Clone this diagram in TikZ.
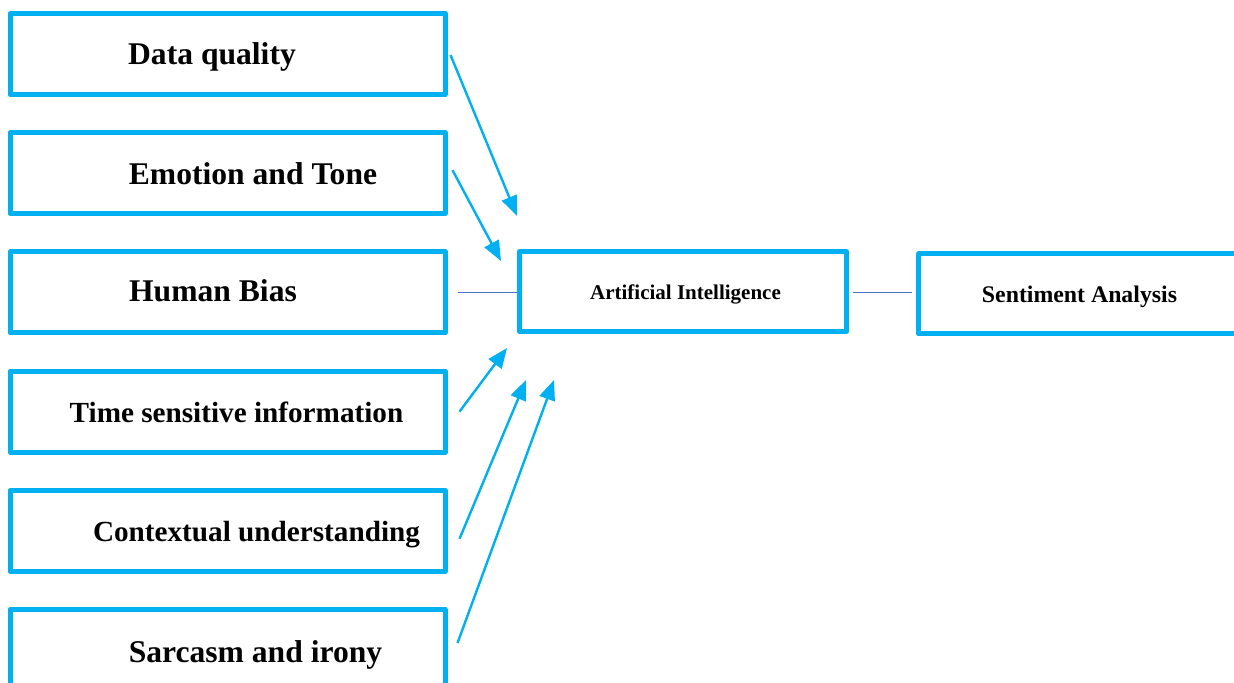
\documentclass[tikz,border=0pt]{standalone}
\usepackage{fontspec}
\setmainfont{Liberation Serif}
\usepackage{tikz}
\usetikzlibrary{arrows.meta, positioning}
\definecolor{boxblue}{HTML}{00B0F0}
\definecolor{linkblue}{HTML}{4472C4}

\begin{document}
\begin{tikzpicture}[x=0.5pt, y=-0.5pt,
  factor/.style={draw=boxblue, line width=2.5pt, line join=round, minimum width=217.5pt, minimum height=40.5pt, inner sep=0pt},
  core/.style={draw=boxblue, line width=2.5pt, line join=round, minimum width=163.5pt, minimum height=40pt, inner sep=0pt},
  big/.style={font=\fontsize{15.8}{18}\selectfont\bfseries, anchor=base, inner sep=0pt},
  mid/.style={font=\fontsize{14.6}{17}\selectfont\bfseries, anchor=base, inner sep=0pt},
  feed/.style={draw=boxblue, line width=1.2pt, -{Triangle[length=10pt, width=8pt]}},
  link/.style={draw=linkblue, line width=0.5pt}]
  \useasboundingbox (0,0) rectangle (1234,683);

  \node[factor] (dq) at (227.5,54) {};
  \node[factor] (et) at (227.5,173.2) {};
  \node[factor] (hb) at (227.5,292.4) {};
  \node[factor] (ts) at (227.5,411.6) {};
  \node[factor] (cu) at (227.5,530.8) {};
  \node[factor] (si) at (227.5,650) {};
  \node[core] (ai) at (683,291.5) {};
  \node[core] (sa) at (1082,294) {};

  \node[big] (dqtext) at (212,65) {Data quality};
  \node[big] (ettext) at (253,185) {Emotion and Tone};
  \node[big] (hbtext) at (213,301.7) {Human Bias};
  \node[mid] (tstext) at (236.5,422.7) {Time sensitive information};
  \node[mid] (cutext) at (256.5,541.7) {Contextual understanding};
  \node[big] (sitext) at (255.5,662) {Sarcasm and irony};
  \node[font=\fontsize{10.5}{12}\selectfont\bfseries, anchor=base, inner sep=0pt] (aitext) at (685.5,299.3) {Artificial Intelligence};
  \node[font=\fontsize{11.9}{14}\selectfont\bfseries, anchor=base, inner sep=0pt] (satext) at (1079.5,303) {Sentiment Analysis};

  \coordinate (tipdq) at (517,216);
  \coordinate (tipet) at (501,261);
  \coordinate (tipts) at (507,348);
  \coordinate (tipcu) at (526,380);
  \coordinate (tipsi) at (554,380);

  \draw[feed] ([shift={(3,1)}]dq.east) -- (tipdq);
  \draw[feed] ([shift={(5,-3)}]et.east) -- (tipet);
  \draw[feed] ([shift={(12,0)}]ts.east) -- (tipts);
  \draw[feed] ([shift={(12,8)}]cu.east) -- (tipcu);
  \draw[feed] ([shift={(10,-7)}]si.east) -- (tipsi);
  \draw[link] ([xshift=5pt]hb.east) -- (ai.west |- hb.east);
  \draw[link] ([shift={(2pt,1)}]ai.east) -- ([shift={(-2pt,1)}]sa.west |- ai.east);
\end{tikzpicture}
\end{document}
